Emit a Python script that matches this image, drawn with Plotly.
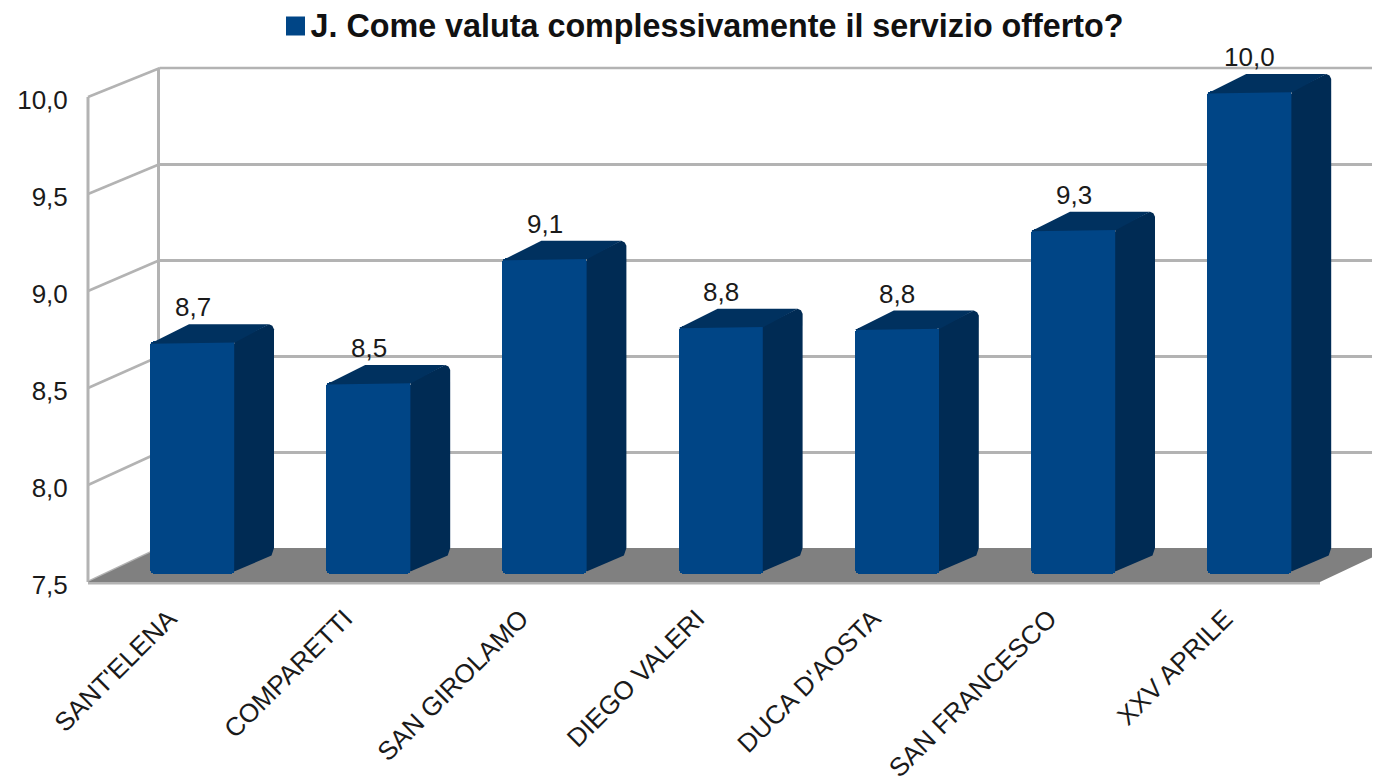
import plotly.graph_objects as go

categories = ["SANT'ELENA", "COMPARETTI", "SAN GIROLAMO", "DIEGO VALERI", "DUCA D'AOSTA", "SAN FRANCESCO", "XXV APRILE"]
values = [8.70, 8.49, 9.13, 8.78, 8.77, 9.28, 9.99]
y_ticks = [7.5, 8.0, 8.5, 9.0, 9.5, 10.0]
y_tick_labels = ["7,5", "8,0", "8,5", "9,0", "9,5", "10,0"]
series_name = "J. Come valuta complessivamente il servizio offerto?"

# The page has an 8 px body margin, so the figure is 8 px smaller and all
# window positions below are converted to figure fractions with that offset.
PAGE = 8
W, H = 1380 - PAGE, 783 - PAGE
BASE = 7.5
FRONT, SIDE, TOP = "#004586", "#002b54", "#00315f"
GRID = "#b3b3b3"
FLOOR = "#808080"
FONT = "Liberation Sans, Arial, sans-serif"
TEXT = "#1a1a1a"

def px(x): return (x - PAGE) / W
def py(y): return 1 - (y - PAGE) / H

# Bar space: pixel scale of the bars (drawn mid-depth between front and back planes)
CAT0, CAT_STEP, BAR_W = 192.5, 176.2, 85
BASE_Y, UNIT = 574, 194
x3_range = [(PAGE - CAT0) / CAT_STEP, (PAGE + W - CAT0) / CAT_STEP]
y3_range = [BASE + (BASE_Y - PAGE - H) / UNIT, BASE + (BASE_Y - PAGE) / UNIT]

DX, DY_TOP, DY_BOT = 39, 17, 21
half = BAR_W / 2 / CAT_STEP
dx = DX / CAT_STEP
r = 5 / CAT_STEP
ry = 5 / UNIT
seam = 0.8 / CAT_STEP

fig = go.Figure()

# Back wall gridlines (axes x / y)
fig.add_trace(go.Scatter(x=[0], y=[8], xaxis="x", yaxis="y", mode="markers",
                         marker=dict(opacity=0), showlegend=False, hoverinfo="skip"))
# Front plane with axis labels (axes x2 / y2)
fig.add_trace(go.Scatter(x=categories, y=values, xaxis="x2", yaxis="y2", mode="markers",
                         marker=dict(opacity=0), showlegend=False, hoverinfo="skip"))

# Bars (axes x3 / y3)
fig.add_trace(go.Bar(x=list(range(len(values))), y=[v - BASE for v in values], base=BASE,
                     width=BAR_W / CAT_STEP, xaxis="x3", yaxis="y3",
                     marker=dict(color=FRONT, line=dict(width=0), cornerradius=5),
                     name=series_name, showlegend=False,
                     customdata=values, hovertemplate="%{customdata}<extra></extra>"))

for i, v in enumerate(values):
    top_dy = DY_TOP / UNIT
    bot_dy = DY_BOT / UNIT
    # side face
    fig.add_trace(go.Scatter(
        x=[i + half - seam, i + half + dx - r, i + half + dx - r / 3, i + half + dx, i + half + dx,
           i + half + dx - r / 2, i + half - seam],
        y=[v, v + top_dy, v + top_dy - ry / 3, v + top_dy - ry, BASE + bot_dy + ry,
           BASE + bot_dy - ry / 2, BASE + ry / 2],
        xaxis="x3", yaxis="y3", mode="lines", fill="toself", fillcolor=SIDE,
        line=dict(width=0, color=SIDE), showlegend=False, hoverinfo="skip"))
    # top face
    fig.add_trace(go.Scatter(
        x=[i - half, i - half + dx, i + half + dx - r, i + half],
        y=[v - ry / 2, v + top_dy, v + top_dy, v - ry / 4],
        xaxis="x3", yaxis="y3", mode="lines", fill="toself", fillcolor=TOP,
        line=dict(width=0, color=TOP), showlegend=False, hoverinfo="skip"))

# Walls and floor
FX0, FX1, FY0, FUNIT = 88, 1320, 582, 194
BX0, BX1, BY0, BUNIT = 160, 1392, 548, 192
LABEL_DX, LABEL_DY = -7, 3   # tick labels sit slightly off the drawn plane
shapes = []
for t in y_ticks:
    shapes.append(dict(type="line", xref="paper", yref="paper", layer="below",
                       x0=px(FX0), y0=py(FY0 - (t - BASE) * FUNIT),
                       x1=px(BX0), y1=py(BY0 - (t - BASE) * BUNIT),
                       line=dict(color=GRID, width=2.5)))
top_back = BY0 - 2.5 * BUNIT
shapes.append(dict(type="line", xref="paper", yref="paper", layer="below",
                   x0=px(BX0), y0=py(top_back), x1=1, y1=py(top_back),
                   line=dict(color=GRID, width=2.5)))
shapes.append(dict(type="line", xref="paper", yref="paper", layer="below",
                   x0=px(FX0), y0=py(FY0), x1=px(FX0), y1=py(FY0 - 2.5 * FUNIT),
                   line=dict(color=GRID, width=3)))
shapes.append(dict(type="line", xref="paper", yref="paper", layer="below",
                   x0=px(FX0), y0=py(FY0 + 1), x1=px(FX1), y1=py(FY0 + 1),
                   line=dict(color=GRID, width=3)))
path = "M {} {} L {} {} L {} {} L {} {} Z".format(
    px(FX0), py(FY0), px(BX0), py(BY0), px(BX1), py(BY0), px(FX1), py(FY0))
shapes.append(dict(type="path", xref="paper", yref="paper", layer="below", path=path,
                   fillcolor=FLOOR, line=dict(width=0)))
# Legend swatch beside the series name
shapes.append(dict(type="rect", xref="paper", yref="paper", layer="above",
                   x0=px(286), x1=px(305), y0=py(35.5), y1=py(16.5),
                   fillcolor=FRONT, line=dict(width=0)))

annotations = [dict(x=i, y=v, xref="x3", yref="y3", text=f"{v:.1f}".replace(".", ","),
                    showarrow=False, yshift=34, xshift=0,
                    font=dict(family=FONT, size=26, color=TEXT))
               for i, v in enumerate(values)]

fig.update_layout(
    width=W, height=H,
    margin=dict(l=0, r=0, t=0, b=0),
    paper_bgcolor="white", plot_bgcolor="rgba(0,0,0,0)",
    showlegend=False, bargap=0,
    title=dict(text=f"<b>{series_name}</b>",
               x=px(310.5), xanchor="left", y=py(25.5), yanchor="middle",
               font=dict(family=FONT, size=32.3, color="#111111")),
    shapes=shapes, annotations=annotations,
    xaxis=dict(domain=[px(BX0), 1], range=[0, 1], visible=False, anchor="y", automargin=False),
    yaxis=dict(domain=[py(BY0), py(top_back)], range=[BASE, 10], anchor="x", automargin=False,
               tickmode="array", tickvals=y_ticks[1:], showticklabels=False, ticks="",
               showgrid=True, gridcolor=GRID, gridwidth=2.5,
               showline=True, linecolor=GRID, linewidth=2.5, zeroline=False),
    xaxis2=dict(domain=[px(FX0 + LABEL_DX), px(FX1 + LABEL_DX)], range=[-0.5, 6.5], anchor="y2",
                type="category", automargin=False,
                categoryorder="array", categoryarray=categories,
                tickangle=-45, showgrid=False, showline=False,
                ticks="outside", ticklen=7, tickcolor="rgba(0,0,0,0)", zeroline=False,
                tickfont=dict(family=FONT, size=26, color=TEXT)),
    yaxis2=dict(domain=[py(FY0 + LABEL_DY), py(FY0 + LABEL_DY - 2.5 * FUNIT)], range=[BASE, 10],
                anchor="x2", automargin=False,
                tickmode="array", tickvals=y_ticks, ticktext=y_tick_labels,
                showgrid=False, showline=False, zeroline=False,
                ticks="outside", ticklen=7, tickcolor="rgba(0,0,0,0)",
                tickfont=dict(family=FONT, size=26, color=TEXT)),
    xaxis3=dict(domain=[0, 1], range=x3_range, visible=False, anchor="y3", automargin=False),
    yaxis3=dict(domain=[0, 1], range=y3_range, visible=False, anchor="x3", automargin=False),
)

fig.write_html("out.html")
